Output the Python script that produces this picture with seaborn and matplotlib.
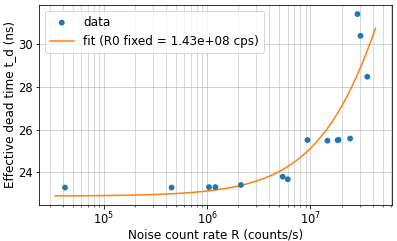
import numpy as np
import pandas as pd
import seaborn as sns
import matplotlib
matplotlib.use("Agg")
import matplotlib.pyplot as plt

# measured points
rate = [4.2e4, 4.52e5, 1.04e6, 1.20e6, 2.12e6, 5.38e6, 6.03e6, 9.35e6,
        1.46e7, 1.83e7, 1.87e7, 2.42e7, 2.85e7, 3.05e7, 3.55e7]
dead_time = [23.28, 23.28, 23.30, 23.30, 23.40, 23.79, 23.67, 25.51,
             25.48, 25.50, 25.52, 25.58, 31.42, 30.40, 28.48]

# fit parameters (R0 held fixed)
R0 = 1.43e8
fit_t0 = 22.88
fit_slope = 2.40e-7


def fit_model(r):
    return fit_t0 + fit_slope * r / (1 + r / R0)


df = pd.DataFrame({"R": rate, "t": dead_time})
r_fit = np.logspace(np.log10(0.8 * min(rate)), np.log10(1.2 * max(rate)), 200)
df_fit = pd.DataFrame({"R": r_fit, "t": fit_model(r_fit)})

plt.rcParams["font.size"] = 12
plt.rcParams["xtick.labelsize"] = 11.5
plt.rcParams["ytick.labelsize"] = 11.5
plt.rcParams["xtick.major.pad"] = 1.8
plt.rcParams["ytick.major.pad"] = 3.0
plt.rcParams["axes.labelpad"] = 1.5

DPI = 72
fig = plt.figure(figsize=(397 / DPI, 241 / DPI), dpi=DPI)
ax = fig.add_axes([39 / 397, 36 / 241, 352.5 / 397, 200 / 241])

sns.scatterplot(data=df, x="R", y="t", ax=ax, color="#1f77b4", s=34,
                edgecolor="none", label="data", zorder=3)
sns.lineplot(data=df_fit, x="R", y="t", ax=ax, color="#ff7f0e", lw=1.5,
             estimator=None, label="fit (R0 fixed = %.2e cps)" % R0, zorder=2)

ax.set_xscale("log")
ax.grid(True, which="major", color="#b0b0b0", lw=0.8, alpha=0.7)
ax.grid(True, which="minor", color="#b0b0b0", lw=0.8, alpha=0.6)
ax.set_axisbelow(True)
ax.set_xlabel("Noise count rate R (counts/s)")
ax.set_ylabel("Effective dead time t_d (ns)")
ax.legend(loc="upper left", scatterpoints=1)

fig.savefig("out.png", dpi=DPI)
